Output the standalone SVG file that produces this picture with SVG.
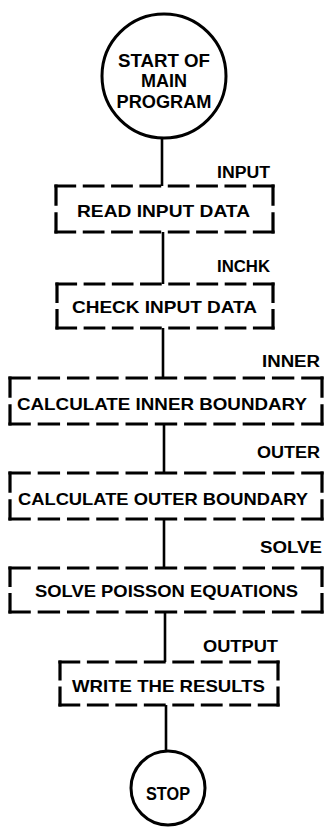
<svg xmlns="http://www.w3.org/2000/svg" width="327" height="828" viewBox="0 0 327 828">
<style>
.bg{fill:#fff}
.term{fill:#fff;stroke:#000;stroke-width:3}
.box line{stroke:#000;stroke-width:3.2;stroke-dasharray:19 10;stroke-linecap:square}
.t{font-family:"Liberation Sans",Arial,sans-serif;font-weight:bold;fill:#000;text-anchor:middle}
.lbl{font-family:"Liberation Sans",Arial,sans-serif;font-weight:bold;fill:#000;text-anchor:end;font-size:16px}
.conn line{stroke:#000;stroke-width:2.6}
</style>
<rect class="bg" x="0" y="0" width="327" height="828"/>
<g id="connectors" class="conn">
<line x1="162" y1="138" x2="162" y2="186"/>
<line x1="163" y1="232" x2="163" y2="284"/>
<line x1="163" y1="328" x2="163" y2="378"/>
<line x1="164" y1="424" x2="164" y2="473"/>
<line x1="164" y1="519" x2="164" y2="568"/>
<line x1="165" y1="612" x2="165" y2="662"/>
<line x1="166" y1="705" x2="166" y2="751"/>
</g>
<g id="start">
<circle class="term" cx="164" cy="76" r="62"/>
<text class="t" x="164" y="67" font-size="18" textLength="92" lengthAdjust="spacingAndGlyphs">START OF</text>
<text class="t" x="164" y="87" font-size="18">MAIN</text>
<text class="t" x="164" y="108" font-size="18" textLength="95" lengthAdjust="spacingAndGlyphs">PROGRAM</text>
</g>
<g id="input">
<text class="lbl" x="270" y="178" textLength="53" lengthAdjust="spacingAndGlyphs">INPUT</text>
<g class="box">
<line x1="56" y1="186" x2="273" y2="186" pathLength="222"/>
<line x1="56" y1="232" x2="273" y2="232" pathLength="222"/>
<line x1="56" y1="186" x2="56" y2="232" pathLength="48"/>
<line x1="273" y1="186" x2="273" y2="232" pathLength="48"/>
</g>
<text class="t" x="163.5" y="217" font-size="16.5" textLength="173" lengthAdjust="spacingAndGlyphs">READ INPUT DATA</text>
</g>
<g id="inchk">
<text class="lbl" x="270" y="272" textLength="53" lengthAdjust="spacingAndGlyphs">INCHK</text>
<g class="box">
<line x1="57" y1="284" x2="273" y2="284" pathLength="222"/>
<line x1="57" y1="328" x2="273" y2="328" pathLength="222"/>
<line x1="57" y1="284" x2="57" y2="328" pathLength="48"/>
<line x1="273" y1="284" x2="273" y2="328" pathLength="48"/>
</g>
<text class="t" x="164.5" y="313" font-size="16.5" textLength="185" lengthAdjust="spacingAndGlyphs">CHECK INPUT DATA</text>
</g>
<g id="inner">
<text class="lbl" x="320" y="367" textLength="58" lengthAdjust="spacingAndGlyphs">INNER</text>
<g class="box">
<line x1="10" y1="378" x2="322" y2="378" pathLength="309"/>
<line x1="10" y1="424" x2="322" y2="424" pathLength="309"/>
<line x1="10" y1="378" x2="10" y2="424" pathLength="48"/>
<line x1="322" y1="378" x2="322" y2="424" pathLength="48"/>
</g>
<text class="t" x="162" y="410" font-size="16.5" textLength="290" lengthAdjust="spacingAndGlyphs">CALCULATE INNER BOUNDARY</text>
</g>
<g id="outer">
<text class="lbl" x="320" y="458" textLength="63" lengthAdjust="spacingAndGlyphs">OUTER</text>
<g class="box">
<line x1="10" y1="473" x2="322" y2="473" pathLength="309"/>
<line x1="10" y1="519" x2="322" y2="519" pathLength="309"/>
<line x1="10" y1="473" x2="10" y2="519" pathLength="48"/>
<line x1="322" y1="473" x2="322" y2="519" pathLength="48"/>
</g>
<text class="t" x="163" y="505" font-size="16.5" textLength="290" lengthAdjust="spacingAndGlyphs">CALCULATE OUTER BOUNDARY</text>
</g>
<g id="solve">
<text class="lbl" x="322" y="553" textLength="62" lengthAdjust="spacingAndGlyphs">SOLVE</text>
<g class="box">
<line x1="10" y1="568" x2="322" y2="568" pathLength="309"/>
<line x1="10" y1="612" x2="322" y2="612" pathLength="309"/>
<line x1="10" y1="568" x2="10" y2="612" pathLength="48"/>
<line x1="322" y1="568" x2="322" y2="612" pathLength="48"/>
</g>
<text class="t" x="166.5" y="597" font-size="16.5" textLength="263" lengthAdjust="spacingAndGlyphs">SOLVE POISSON EQUATIONS</text>
</g>
<g id="output">
<text class="lbl" x="278" y="652" textLength="75" lengthAdjust="spacingAndGlyphs">OUTPUT</text>
<g class="box">
<line x1="60" y1="662" x2="278" y2="662" pathLength="222"/>
<line x1="60" y1="705" x2="278" y2="705" pathLength="222"/>
<line x1="60" y1="662" x2="60" y2="705" pathLength="48"/>
<line x1="278" y1="662" x2="278" y2="705" pathLength="48"/>
</g>
<text class="t" x="168.5" y="692" font-size="16.5" textLength="193" lengthAdjust="spacingAndGlyphs">WRITE THE RESULTS</text>
</g>
<g id="stop">
<circle class="term" cx="168" cy="788" r="37"/>
<text class="t" x="168" y="800" font-size="19" textLength="44" lengthAdjust="spacingAndGlyphs">STOP</text>
</g>
</svg>
